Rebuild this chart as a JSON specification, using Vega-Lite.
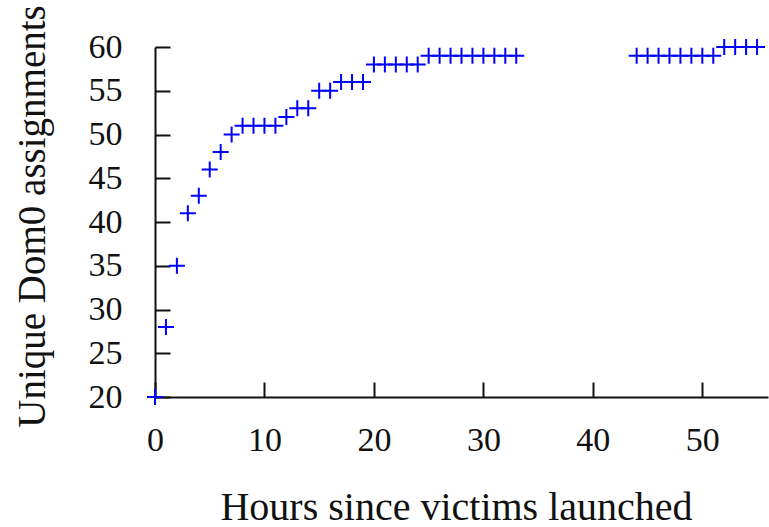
{
  "$schema": "https://vega.github.io/schema/vega-lite/v6.json",
  "autosize": {"type": "none"},
  "padding": {"left": 155, "top": 47, "right": 1, "bottom": 130},
  "width": 613,
  "height": 350,
  "background": "white",
  "config": {
    "view": {"stroke": null},
    "axis": {
      "grid": false,
      "domainColor": "#111",
      "domainWidth": 2,
      "tickColor": "#111",
      "tickWidth": 2,
      "tickSize": -15,
      "labelFont": "Liberation Serif",
      "labelFontSize": 34,
      "labelColor": "#111",
      "titleFont": "Liberation Serif",
      "titleFontSize": 39,
      "titleFontWeight": "normal",
      "titleColor": "#111"
    }
  },
  "data": {
    "values": [
      {"hours": 0, "unique": 20},
      {"hours": 1, "unique": 28},
      {"hours": 2, "unique": 35},
      {"hours": 3, "unique": 41},
      {"hours": 4, "unique": 43},
      {"hours": 5, "unique": 46},
      {"hours": 6, "unique": 48},
      {"hours": 7, "unique": 50},
      {"hours": 8, "unique": 51},
      {"hours": 9, "unique": 51},
      {"hours": 10, "unique": 51},
      {"hours": 11, "unique": 51},
      {"hours": 12, "unique": 52},
      {"hours": 13, "unique": 53},
      {"hours": 14, "unique": 53},
      {"hours": 15, "unique": 55},
      {"hours": 16, "unique": 55},
      {"hours": 17, "unique": 56},
      {"hours": 18, "unique": 56},
      {"hours": 19, "unique": 56},
      {"hours": 20, "unique": 58},
      {"hours": 21, "unique": 58},
      {"hours": 22, "unique": 58},
      {"hours": 23, "unique": 58},
      {"hours": 24, "unique": 58},
      {"hours": 25, "unique": 59},
      {"hours": 26, "unique": 59},
      {"hours": 27, "unique": 59},
      {"hours": 28, "unique": 59},
      {"hours": 29, "unique": 59},
      {"hours": 30, "unique": 59},
      {"hours": 31, "unique": 59},
      {"hours": 32, "unique": 59},
      {"hours": 33, "unique": 59},
      {"hours": 44, "unique": 59},
      {"hours": 45, "unique": 59},
      {"hours": 46, "unique": 59},
      {"hours": 47, "unique": 59},
      {"hours": 48, "unique": 59},
      {"hours": 49, "unique": 59},
      {"hours": 50, "unique": 59},
      {"hours": 51, "unique": 59},
      {"hours": 52, "unique": 60},
      {"hours": 53, "unique": 60},
      {"hours": 54, "unique": 60},
      {"hours": 55, "unique": 60}
    ]
  },
  "mark": {
    "type": "point",
    "shape": "M-1,0H1M0,-1V1",
    "filled": false,
    "stroke": "#0000ff",
    "strokeWidth": 2,
    "size": 256,
    "opacity": 1,
    "clip": false
  },
  "encoding": {
    "x": {
      "field": "hours",
      "type": "quantitative",
      "scale": {"domain": [0, 56], "nice": false, "zero": false},
      "axis": {
        "title": "Hours since victims launched",
        "values": [0, 10, 20, 30, 40, 50],
        "labelBaseline": "alphabetic",
        "labelPadding": 68,
        "labelFlush": false,
        "titleFontSize": 40,
        "titleX": 301,
        "titleY": 122,
        "titleBaseline": "alphabetic",
        "titleAlign": "center"
      }
    },
    "y": {
      "field": "unique",
      "type": "quantitative",
      "scale": {"domain": [20, 60], "nice": false, "zero": false},
      "axis": {
        "title": "Unique Dom0 assignments",
        "values": [20, 25, 30, 35, 40, 45, 50, 55, 60],
        "labelPadding": 48,
        "labelFlush": false,
        "labelBaseline": "middle",
        "titleAngle": -90,
        "titleX": -111,
        "titleY": 169,
        "titleBaseline": "alphabetic",
        "titleAlign": "center"
      }
    }
  }
}
